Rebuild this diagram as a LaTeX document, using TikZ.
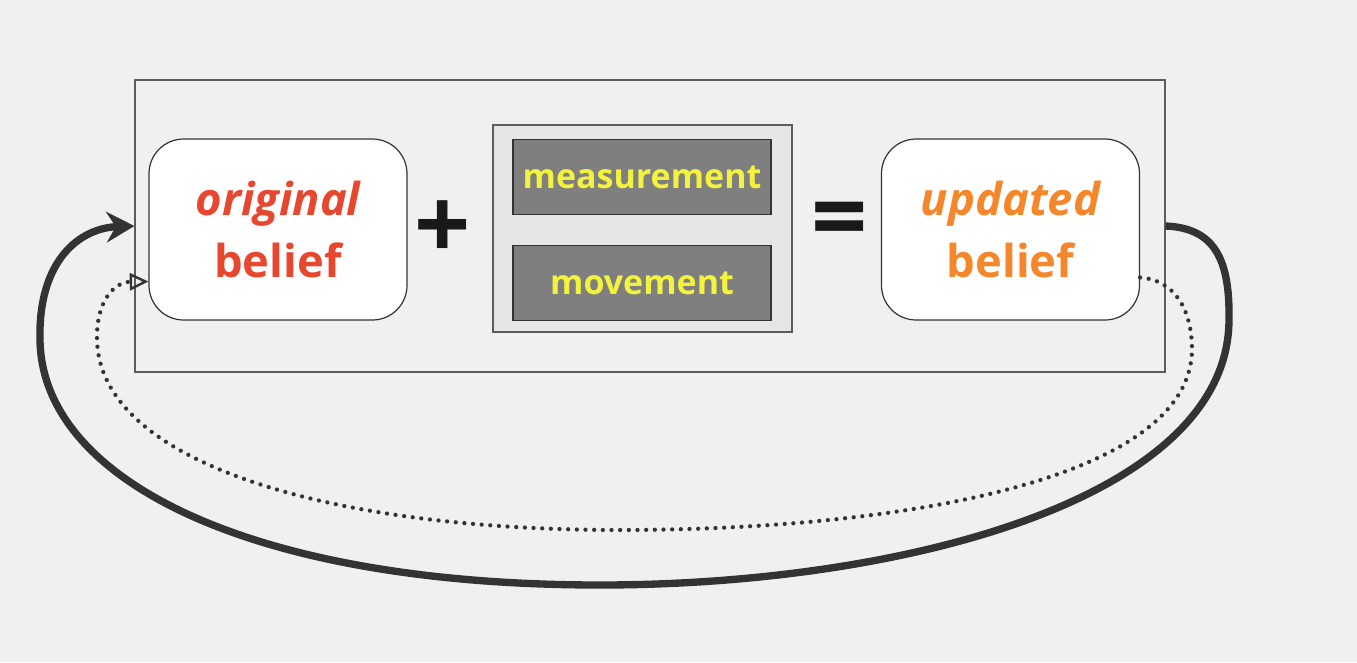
\documentclass[tikz,border=0pt]{standalone}
\usepackage{fontspec}
\setmainfont{Open Sans}
\usetikzlibrary{arrows.meta}
\definecolor{bg}{HTML}{F0F0F0}
\definecolor{redtxt}{HTML}{E8472F}
\definecolor{orangetxt}{HTML}{F5862A}
\definecolor{yellowtxt}{HTML}{F2F23F}
\definecolor{graybox}{HTML}{7F7F7F}
\definecolor{midbox}{HTML}{E5E5E5}
\definecolor{linec}{HTML}{333333}
\tikzset{
  belief/.style={draw=linec, line width=0.9pt, fill=white, rounded corners=26pt,
    minimum width=193.5pt, minimum height=135.75pt, align=center, inner sep=0pt},
  itembox/.style={draw=linec, line width=0.9pt, fill=graybox, minimum width=193.5pt,
    minimum height=56pt, inner sep=0pt, text=yellowtxt, font=\fontsize{25.5}{28}\selectfont\bfseries},
  opsign/.style={font=\fontsize{74}{74}\selectfont\bfseries, text=black!90, inner sep=0pt},
  loop/.style={draw=linec, line width=5.5pt},
  dotloop/.style={draw=linec, line width=3.2pt, line cap=round, dash pattern=on 0pt off 6.5pt}
}
\newcommand{\btxt}[2]{{\fontsize{34}{46}\selectfont\bfseries\color{#1}\itshape #2}\\[11pt]{\fontsize{34}{46}\selectfont\bfseries\color{#1}belief}}
\begin{document}
\begin{tikzpicture}[x=0.75pt,y=-0.75pt]
\fill[bg] (0,0) rectangle (1357,662);
\useasboundingbox (0,0) rectangle (1357,662);
\node[draw=linec!80, line width=0.8pt, minimum width=772.5pt, minimum height=219pt, inner sep=0pt] (frame) at (650,226) {};
\node[belief] (orig) at (278,229.5) {\btxt{redtxt}{original}};
\node[belief] (upd) at (1010.5,229.5) {\btxt{orangetxt}{updated}};
\node[draw=linec!80, line width=0.9pt, fill=midbox, minimum width=224.25pt, minimum height=155.25pt, inner sep=0pt] (mid) at (642.5,228.5) {};
\node[itembox] (meas) at (642,177) {measurement};
\node[itembox] (move) at (642,283) {movement};
\node[opsign] (plus) at (443,230) {+};
\node[opsign] (eq) at (840,227) {=};
\draw[loop, -{Stealth[length=21pt,width=23pt,inset=7pt]}] (frame.east)
  .. controls (1215,228) and (1230,260) .. (1229,320)
  .. controls (1228,500) and (900,585) .. (600,585)
  .. controls (250,585) and (42,480) .. (40,340)
  .. controls (38,260) and (80,228) .. (frame.west);
\coordinate (ds) at ([yshift=-36pt]upd.east);
\coordinate (de) at ([yshift=-39pt]orig.west);
\draw[dotloop, -{Triangle[open,length=14pt,width=13pt,line width=1.8pt,sep=0pt]}] (ds)
  .. controls (1175,280) and (1192,310) .. (1192,350)
  .. controls (1190,480) and (900,530) .. (620,530)
  .. controls (320,530) and (100,460) .. (97,340)
  .. controls (96,300) and (115,282) .. (de);
\end{tikzpicture}
\end{document}
